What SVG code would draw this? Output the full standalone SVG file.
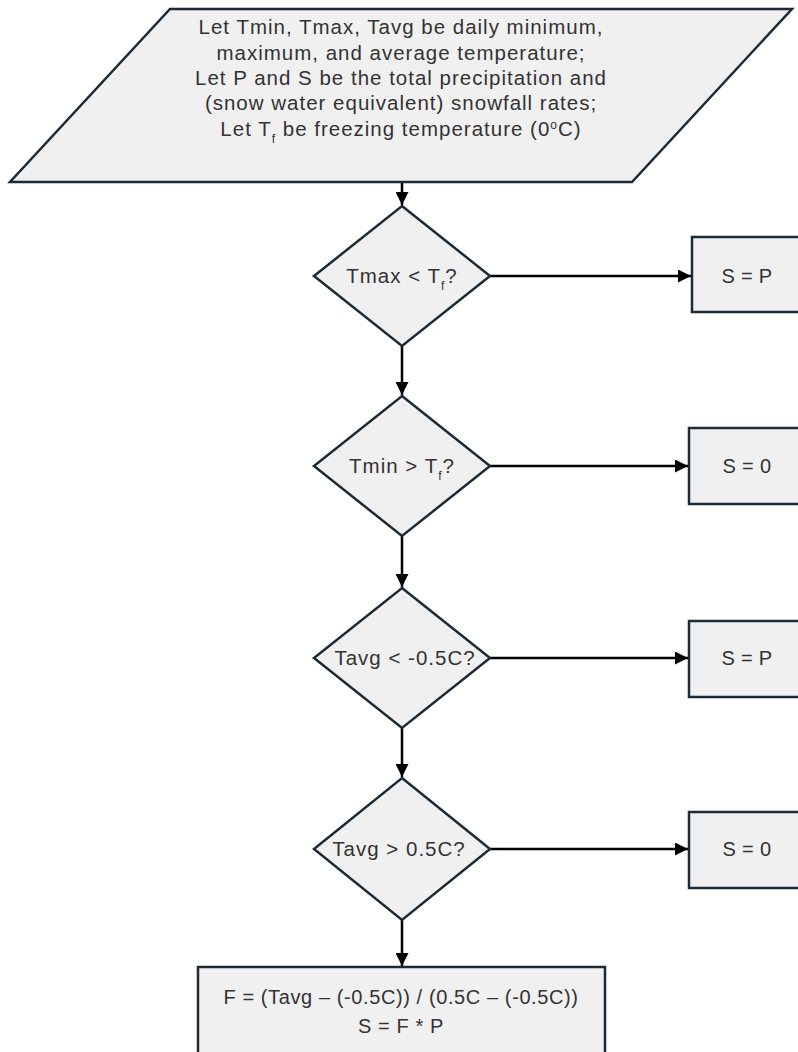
<svg xmlns="http://www.w3.org/2000/svg" width="798" height="1052" viewBox="0 0 798 1052">
<style>
.shape{fill:#f0f0f0;stroke:#1c2b36;stroke-width:2.5}
.t{font-family:"Liberation Sans",Arial,sans-serif;font-size:20px;fill:#333;text-anchor:middle;letter-spacing:0.6px}
.w{font-size:20.5px;letter-spacing:1px}
.b{letter-spacing:0.3px}
.sub{font-size:12px;baseline-shift:sub}
.sup{font-size:12px;baseline-shift:super}
.c{stroke:#000;stroke-width:2.5;fill:none;marker-end:url(#ah)}
</style>
<defs>
<marker id="ah" viewBox="0 0 10 10" refX="10" refY="5" markerWidth="5.2" markerHeight="5.2" markerUnits="strokeWidth" orient="auto">
<path d="M0,0 L10,5 L0,10 z" fill="#000"/>
</marker>
</defs>
<rect width="798" height="1052" fill="#fff"/>
<g id="connectors">
<line class="c" x1="402" y1="183" x2="402" y2="205"/>
<line class="c" x1="490" y1="276" x2="691" y2="276"/>
<line class="c" x1="402" y1="346" x2="402" y2="395"/>
<line class="c" x1="490" y1="466" x2="688" y2="466"/>
<line class="c" x1="402" y1="535" x2="402" y2="587"/>
<line class="c" x1="490" y1="658" x2="688" y2="658"/>
<line class="c" x1="402" y1="728" x2="402" y2="777"/>
<line class="c" x1="490" y1="849" x2="688" y2="849"/>
<line class="c" x1="402" y1="920" x2="402" y2="966"/>
</g>
<g id="input">
<polygon class="shape" points="170,9 792,9 632,182 10,182"/>
<text class="t w" x="401" y="34">Let Tmin, Tmax, Tavg be daily minimum,</text>
<text class="t w" x="401" y="60">maximum, and average temperature;</text>
<text class="t w" x="401" y="85">Let P and S be the total precipitation and</text>
<text class="t w" x="401" y="110">(snow water equivalent) snowfall rates;</text>
<text class="t w" x="401" y="136">Let T<tspan class="sub">f</tspan> be freezing temperature (0<tspan class="sup">o</tspan>C)</text>
</g>
<g id="d1">
<polygon class="shape" points="402,206 490,276 402,346 314,276"/>
<text class="t w" x="402" y="283">Tmax &lt; T<tspan class="sub">f</tspan>?</text>
</g>
<g id="b1">
<rect class="shape" x="692" y="237" width="120" height="75"/>
<text class="t b" x="747" y="283">S = P</text>
</g>
<g id="d2">
<polygon class="shape" points="402,396 490,466 402,536 314,466"/>
<text class="t w" x="402" y="473">Tmin &gt; T<tspan class="sub">f</tspan>?</text>
</g>
<g id="b2">
<rect class="shape" x="689" y="428" width="120" height="76"/>
<text class="t b" x="747" y="473">S = 0</text>
</g>
<g id="d3">
<polygon class="shape" points="402,588 490,658 402,728 314,658"/>
<text class="t w" x="405" y="665">Tavg &lt; -0.5C?</text>
</g>
<g id="b3">
<rect class="shape" x="689" y="621" width="120" height="76"/>
<text class="t b" x="747" y="665">S = P</text>
</g>
<g id="d4">
<polygon class="shape" points="402,778 490,849 402,920 314,849"/>
<text class="t w" x="399" y="856">Tavg &gt; 0.5C?</text>
</g>
<g id="b4">
<rect class="shape" x="689" y="812" width="120" height="76"/>
<text class="t b" x="747" y="856">S = 0</text>
</g>
<g id="calc">
<rect class="shape" x="198" y="967" width="407" height="100"/>
<text class="t" x="401" y="1004">F = (Tavg – (-0.5C)) / (0.5C – (-0.5C))</text>
<text class="t" x="401" y="1033">S = F * P</text>
</g>
</svg>
